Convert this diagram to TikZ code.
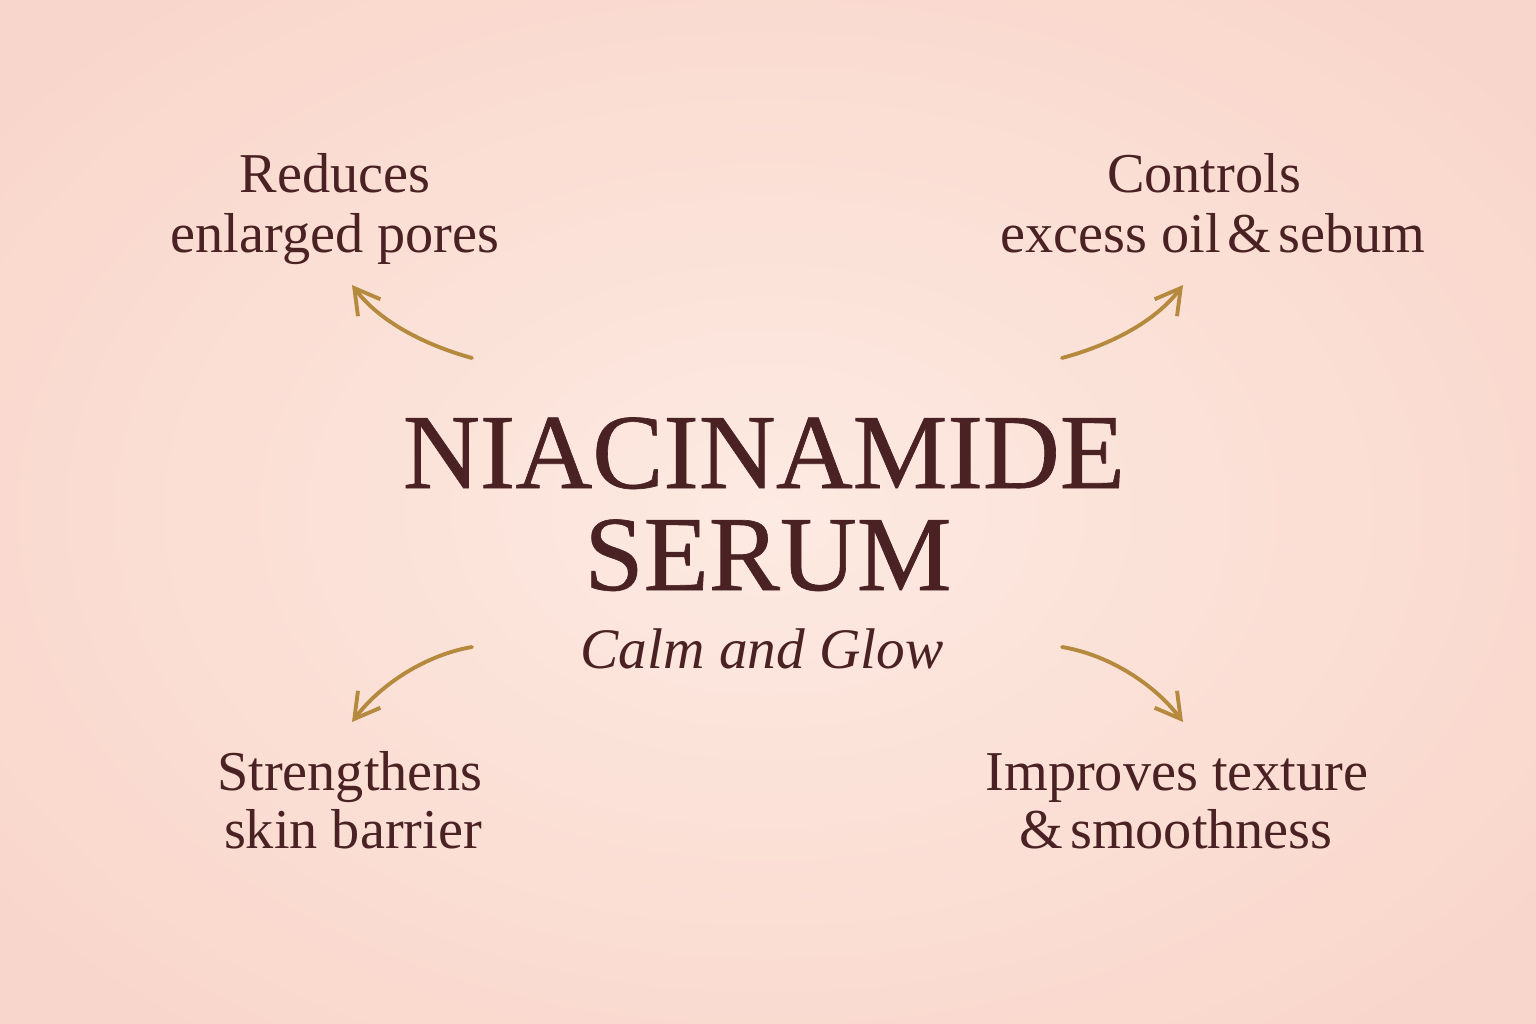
\documentclass[tikz,border=0pt]{standalone}
\usepackage{fontspec}
\setmainfont{Liberation Serif}
\usetikzlibrary{arrows.meta}
\definecolor{ink}{HTML}{4A2224}
\definecolor{gold}{HTML}{B58A3E}
\definecolor{bgin}{HTML}{FDEAE2}
\definecolor{bgout}{HTML}{F9D6CB}
\tikzset{
  label/.style={text=ink, align=center, font=\fontsize{16pt}{17pt}\selectfont, inner sep=0pt, anchor=base},
  title/.style={text=ink, inner sep=0pt, anchor=base, font=\fontsize{30.3pt}{32pt}\selectfont\addfontfeature{FakeBold=0.6}},
  sub/.style={text=ink, inner sep=0pt, anchor=base, font=\fontsize{16.3pt}{18pt}\selectfont\itshape},
  goldarrow/.style={draw=gold, line width=1.1pt, line cap=round, -{Straight Barb[length=7pt, width=8pt, line width=1.1pt]}}
}
\begin{document}
\begin{tikzpicture}[x=0.01cm, y=-0.01cm]
\useasboundingbox (0,0) rectangle (1536,1024);
\shade[inner color=bgin, outer color=bgout] (-200,-150) rectangle (1736,1174);
% labels
\node[label] (tl1) at (335,192) {Reduces};
\node[label] (tl2) at (335,252) {enlarged pores};
\node[label] (tr1) at (1204,192) {Controls};
\node[label] (tr2) at (1213,252) {excess oil\kern2pt\&\kern2pt sebum};
\node[label] (bl1) at (350,790) {Strengthens};
\node[label] (bl2) at (353,848) {skin barrier};
\node[label] (br1) at (1177,790) {Improves texture};
\node[label] (br2) at (1176,848) {\&\kern2pt smoothness};
% title
\node[title] (t1) at (764,488) {NIACINAMIDE};
\node[title] (t2) at (768,590) {SERUM};
\node[sub] (t3) at (762,668) {Calm and Glow};
% arrow endpoints
\coordinate (a1s) at (472,358); \coordinate (a1e) at (352,285);
\coordinate (a2s) at (1062,358); \coordinate (a2e) at (1183,285);
\coordinate (a3s) at (472,647); \coordinate (a3e) at (352,722);
\coordinate (a4s) at (1062,647); \coordinate (a4e) at (1183,722);
\draw[goldarrow] (a1s) .. controls (425,345) and (380,322) .. (a1e);
\draw[goldarrow] (a2s) .. controls (1110,345) and (1155,322) .. (a2e);
\draw[goldarrow] (a3s) .. controls (425,655) and (380,685) .. (a3e);
\draw[goldarrow] (a4s) .. controls (1110,655) and (1155,685) .. (a4e);
\end{tikzpicture}
\end{document}
